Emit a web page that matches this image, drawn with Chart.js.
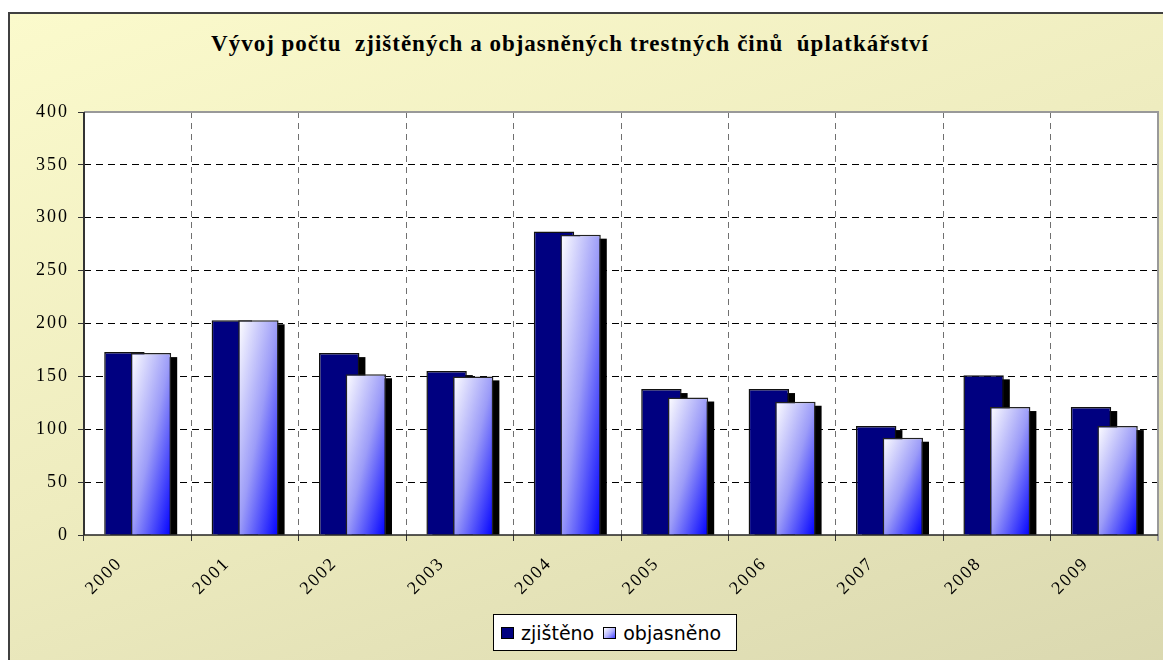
<!DOCTYPE html>
<html lang="cs">
<head>
<meta charset="utf-8">
<title>Vývoj počtu zjištěných a objasněných trestných činů úplatkářství</title>
<script src="https://cdn.jsdelivr.net/npm/chart.js@4.4.1/dist/chart.umd.min.js"></script>
<style>
    html, body {
        margin: 0;
        padding: 0;
        width: 1163px;
        height: 660px;
        overflow: hidden;
        background: #fff;
    }
    .frame {
        position: absolute;
        left: 8px;
        top: 12px;
        width: 1200px;
        height: 700px;
        border-left: 2px solid #404040;
        border-top: 2px solid #404040;
        background: linear-gradient(160deg, #fbfacc 0%, #eeecbf 45%, #d8d6ae 100%);
    }
    .title {
        position: absolute;
        left: 170px;
        width: 800px;
        top: 31px;
        text-align: center;
        font-family: "Liberation Serif", "Times New Roman", serif;
        font-weight: bold;
        font-size: 23px;
        letter-spacing: 1px;
        white-space: pre;
        color: #000;
    }
    #chart {
        position: absolute;
        left: 0;
        top: 0;
    }
    .legend {
        position: absolute;
        left: 493px;
        top: 614px;
        width: 244px;
        height: 37px;
        box-sizing: border-box;
        background: #fff;
        border: 1px solid #000;
        font-family: "DejaVu Sans", sans-serif;
        font-size: 19px;
        display: flex;
        align-items: center;
        padding-left: 7px;
    }
    .legend .item {
        display: flex;
        align-items: center;
        margin-right: 9px;
    }
    .legend .swatch {
        width: 11px;
        height: 10px;
        border: 1px solid #000;
        margin-right: 7px;
    }
</style>
</head>
<body>
<div class="frame"></div>
<div class="title" id="title"></div>
<canvas id="chart" width="1163" height="660"></canvas>
<div class="legend" id="legend"></div>

<script>
// Chart data
const chartTitle = 'Vývoj počtu  zjištěných a objasněných trestných činů  úplatkářství';
const years = ['2000', '2001', '2002', '2003', '2004', '2005', '2006', '2007', '2008', '2009'];
const zjisteno = [173, 203, 172, 155, 287, 138, 138, 103, 151, 121];
const objasneno = [172, 203, 152, 150, 284, 130, 126, 92, 121, 103];
const yTicks = [0, 50, 100, 150, 200, 250, 300, 350, 400];
const seriesLabels = ['zjištěno', 'objasněno'];

const CAT_PCT = 0.495;
const BAR_PCT = 1.52;
const serifFont = '"Liberation Serif", "Times New Roman", serif';

// Excel-like diagonal gradient for the "objasněno" bars
function objGradient(c) {
    if (c.type !== 'data') return '#c8c8ff';
    const chart = c.chart;
    const xs = chart.scales.x;
    const ys = chart.scales.y;
    if (!xs || !ys || !xs.width) return '#c8c8ff';
    const slot = xs.width / years.length;
    const w = slot * CAT_PCT / 2 * BAR_PCT;
    const cx = xs.getPixelForValue(c.dataIndex) + slot * CAT_PCT / 4;
    const top = ys.getPixelForValue(c.raw);
    const bottom = ys.getPixelForValue(0);
    const left = cx - w / 2;
    const h = Math.max(1, bottom - top);
    const L2 = w * w + h * h;
    const g = chart.ctx.createLinearGradient(left, top, left + 2 * w * h * h / L2, top + 2 * w * w * h / L2);
    g.addColorStop(0, '#ffffff');
    g.addColorStop(0.5, '#9c9cf8');
    g.addColorStop(1, '#0000ff');
    return g;
}

// Wide-looking tick digits like the original
const tickSpacing = {
    id: 'tickSpacing',
    beforeUpdate(chart) { chart.ctx.letterSpacing = '2px'; },
    beforeDraw(chart) { chart.ctx.letterSpacing = '2px'; }
};

// White plot area, grey top / right border, solid axis lines
const plotArea = {
    id: 'plotArea',
    beforeDraw(chart) {
        const { ctx, chartArea: a } = chart;
        ctx.save();
        ctx.fillStyle = '#fff';
        ctx.fillRect(a.left, a.top, a.right - a.left, a.bottom - a.top);
        ctx.restore();
    },
    beforeDatasetsDraw(chart) {
        const { ctx, chartArea: a } = chart;
        ctx.save();
        ctx.setLineDash([]);
        ctx.strokeStyle = '#999';
        ctx.lineWidth = 2;
        ctx.beginPath();
        ctx.moveTo(a.left, a.top);
        ctx.lineTo(a.right, a.top);
        ctx.lineTo(a.right, a.bottom + 6);
        ctx.stroke();
        ctx.strokeStyle = '#333';
        ctx.lineWidth = 2;
        ctx.beginPath();
        ctx.moveTo(a.left, a.top);
        ctx.lineTo(a.left, a.bottom);
        ctx.stroke();
        ctx.strokeStyle = '#222';
        ctx.lineWidth = 1.5;
        ctx.beginPath();
        ctx.moveTo(a.left, a.bottom);
        ctx.lineTo(a.right, a.bottom);
        ctx.stroke();
        ctx.restore();
    }
};

// Draw datasets in index order, each with its black drop shadow
const barShadow = {
    id: 'barShadow',
    beforeDatasetsDraw(chart) {
        const ctx = chart.ctx;
        const a = chart.chartArea;
        ctx.save();
        ctx.beginPath();
        ctx.rect(a.left, a.top - 2, a.right - a.left, a.bottom - a.top + 2);
        ctx.clip();
        chart.data.datasets.forEach(function(ds, i) {
            const meta = chart.getDatasetMeta(i);
            ctx.fillStyle = '#000';
            meta.data.forEach(function(bar) {
                const p = bar.getProps(['x', 'y', 'base', 'width'], true);
                ctx.fillRect(p.x - p.width / 2 + 6, p.y + 4, p.width, p.base - p.y - 4);
            });
            meta.controller.draw();
        });
        ctx.restore();
        return false;
    }
};

document.getElementById('title').textContent = chartTitle;

const chart = new Chart(document.getElementById('chart'), {
    type: 'bar',
    data: {
        labels: years,
        datasets: [{
            label: seriesLabels[0],
            data: zjisteno,
            backgroundColor: '#000080',
            borderColor: '#111',
            borderWidth: 1.5,
            borderSkipped: 'bottom'
        }, {
            label: seriesLabels[1],
            data: objasneno,
            backgroundColor: objGradient,
            borderColor: '#222',
            borderWidth: 1.5,
            borderSkipped: 'bottom'
        }]
    },
    options: {
        responsive: false,
        animation: false,
        categoryPercentage: CAT_PCT,
        barPercentage: BAR_PCT,
        layout: {
            padding: { top: 112, right: 5, left: 0, bottom: 0 }
        },
        plugins: {
            legend: { display: false },
            title: { display: false },
            tooltip: { enabled: false }
        },
        scales: {
            x: {
                afterFit: function(scale) { scale.height = 125; },
                grid: {
                    offset: true,
                    color: '#707070',
                    lineWidth: 1,
                    tickLength: 6,
                    tickColor: '#333',
                    tickBorderDash: []
                },
                border: { display: false, dash: [6, 5] },
                ticks: {
                    autoSkip: false,
                    minRotation: 45,
                    maxRotation: 45,
                    color: '#000',
                    padding: 12,
                    labelOffset: -18,
                    font: { family: serifFont, size: 18 }
                }
            },
            y: {
                min: 0,
                max: 400,
                afterFit: function(scale) { scale.width = 84; },
                afterBuildTicks: function(scale) {
                    scale.ticks = yTicks.map(function(v) { return { value: v }; });
                },
                grid: {
                    color: function(c) { return c.tick && (c.tick.value === 400 || c.tick.value === 0) ? 'rgba(0,0,0,0)' : '#000'; },
                    lineWidth: 1,
                    tickLength: 6,
                    tickColor: '#333',
                    tickBorderDash: []
                },
                border: { display: false, dash: [7, 5] },
                ticks: {
                    color: '#000',
                    padding: 9,
                    font: { family: serifFont, size: 18 }
                }
            }
        }
    },
    plugins: [tickSpacing, plotArea, barShadow]
});

// HTML legend built from the datasets
const legendEl = document.getElementById('legend');
const swatchFills = ['#000080', 'linear-gradient(135deg, #ffffff 0%, #b0b0ff 55%, #4040ff 100%)'];
chart.data.datasets.forEach(function(ds, i) {
    const item = document.createElement('span');
    item.className = 'item';
    const sw = document.createElement('span');
    sw.className = 'swatch';
    sw.style.background = swatchFills[i];
    const txt = document.createElement('span');
    txt.textContent = ds.label;
    item.appendChild(sw);
    item.appendChild(txt);
    legendEl.appendChild(item);
});
</script>
</body>
</html>
